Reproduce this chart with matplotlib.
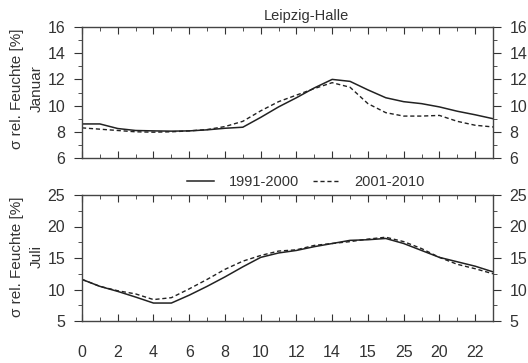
import numpy as np
import matplotlib.pyplot as plt
from matplotlib.ticker import MultipleLocator

plt.rcParams['font.family'] = ['Liberation Sans', 'DejaVu Sans']

hours = np.arange(24)
xtick_pos = list(range(0, 24, 2))
xtick_labels = ['0', '2', '4', '6', '8', '10', '12', '14', '15', '25', '20', '22']

jan_1991 = [8.6, 8.6, 8.25, 8.1, 8.07, 8.05, 8.07, 8.15, 8.27, 8.35, 9.1, 9.9,
            10.6, 11.35, 12.0, 11.85, 11.2, 10.6, 10.3, 10.15, 9.9, 9.57, 9.3, 9.0]
jan_2001 = [8.3, 8.2, 8.1, 8.0, 7.97, 8.0, 8.07, 8.17, 8.4, 8.8, 9.6, 10.3,
            10.8, 11.3, 11.75, 11.4, 10.15, 9.46, 9.2, 9.2, 9.25, 8.8, 8.5, 8.37]
jul_1991 = [11.6, 10.5, 9.7, 8.8, 7.85, 7.85, 9.1, 10.5, 12.0, 13.6, 15.1, 15.8,
            16.2, 16.8, 17.3, 17.8, 17.9, 18.1, 17.3, 16.2, 15.1, 14.4, 13.7, 12.8]
jul_2001 = [11.6, 10.5, 9.8, 9.3, 8.4, 8.7, 10.1, 11.6, 13.2, 14.5, 15.4, 16.1,
            16.3, 17.0, 17.3, 17.6, 18.0, 18.3, 17.6, 16.5, 15.1, 14.0, 13.3, 12.5]

title = 'Leipzig-Halle'
labels = ['1991-2000', '2001-2010']
ylabel = 'σ rel. Feuchte [%]'

txt = '#333333'
lc = '#222222'

fig = plt.figure(figsize=(5.28, 3.63), dpi=100)
ax1 = fig.add_axes([82 / 528, 1 - 158 / 363, 411 / 528, 131 / 363])
ax2 = fig.add_axes([82 / 528, 1 - 321 / 363, 411 / 528, 126 / 363])

panels = [
    (ax1, jan_1991, jan_2001, (6, 16), 2, 1, 'Januar', 89),
    (ax2, jul_1991, jul_2001, (5, 25), 5, 2.5, 'Juli', 257),
]
for ax, a, b, ylim, major, minor, month, yc in panels:
    l1, = ax.plot(hours, a, color=lc, lw=1.1, ls='-')
    l2, = ax.plot(hours, b, color=lc, lw=1.0, ls=(0, (3, 2)))
    ax.set_xlim(0, 23)
    ax.set_ylim(*ylim)
    ax.yaxis.set_major_locator(MultipleLocator(major))
    ax.yaxis.set_minor_locator(MultipleLocator(minor))
    ax.set_xticks(xtick_pos)
    ax.xaxis.set_minor_locator(MultipleLocator(1))
    ax.tick_params(axis='x', which='both', direction='in', top=True, bottom=True,
                   colors=txt, labelsize=11.5)
    ax.tick_params(axis='x', which='major', length=5)
    ax.tick_params(axis='x', which='minor', length=3)
    ax.tick_params(axis='y', which='both', direction='out', left=True, right=True,
                   labelleft=True, labelright=True, colors=txt, labelsize=11.5)
    ax.tick_params(axis='y', which='major', length=6, pad=6)
    ax.tick_params(axis='y', which='minor', length=3)
    for s in ax.spines.values():
        s.set_color('#444444')
        s.set_linewidth(1.0)
    fig.text(17 / 528, 1 - yc / 363, ylabel, rotation=90, ha='center', va='center',
             color=txt, fontsize=11)
    fig.text(37 / 528, 1 - yc / 363, month, rotation=90, ha='center', va='center',
             color=txt, fontsize=11)

ax1.set_xticklabels([])
ax2.set_xticklabels(xtick_labels)
ax2.tick_params(axis='x', pad=17)
ax1.set_title(title, color=txt, fontsize=10.5, pad=5, x=0.545)

fig.legend([l1, l2], labels, loc='center', bbox_to_anchor=(306 / 528, 1 - 182 / 363),
           ncol=2, frameon=False, fontsize=10.5, handlelength=1.85,
           handletextpad=1.0, columnspacing=0.95, labelcolor=txt)

fig.savefig('out.png', dpi=100)
